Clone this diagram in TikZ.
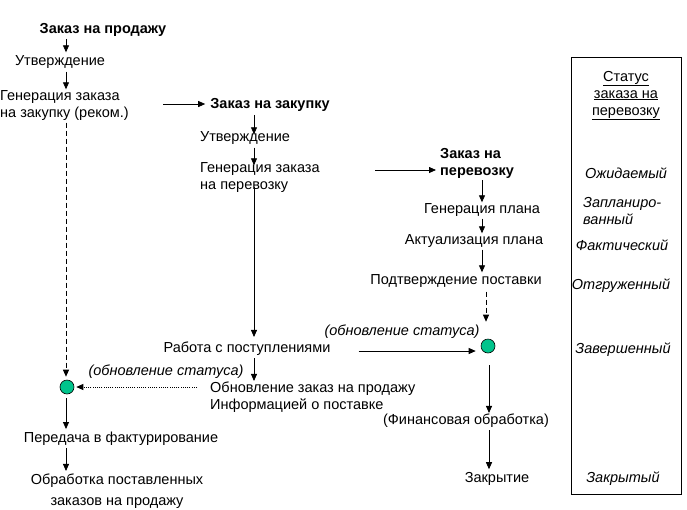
\documentclass[tikz,border=0pt]{standalone}
\usepackage{fontspec}
\setmainfont{Liberation Sans}
\usetikzlibrary{arrows.meta,calc}
\definecolor{stgreen}{RGB}{0,196,140}
\begin{document}
\begin{tikzpicture}[x=1pt,y=-1pt,
  txt/.style={inner sep=0pt, yshift=-2pt, font=\fontsize{14.5}{17}\selectfont},
  boldtxt/.style={inner sep=0pt, yshift=-2pt, font=\fontsize{14.5}{17}\selectfont\bfseries},
  itxt/.style={inner sep=0pt, yshift=-2pt, font=\fontsize{14.5}{17}\selectfont\itshape},
  arr/.style={-{Triangle[length=7pt,width=6pt]}, line width=0.8pt},
  dsharr/.style={arr, dash pattern=on 5pt off 3pt},
  dotarr/.style={arr, dash pattern=on 1pt off 1.2pt},
  statecirc/.style={circle, draw=black, line width=0.6pt, fill=stgreen, minimum size=14pt, inner sep=0pt},
]
\useasboundingbox (0,0) rectangle (687,509);

% column coordinates
\coordinate (k1) at (66,0);
\coordinate (k2) at (254,0);
\coordinate (k3) at (482,0);
\coordinate (k4) at (486,0);
\coordinate (k5) at (489,0);

% left column
\node[boldtxt] (so) at (103,28) {Заказ на продажу};
\node[txt] (so1) at (60,60) {Утверждение};
\node[txt, align=left, anchor=west] (so2) at (0,103.5) {Генерация заказа\\на закупку (реком.)};
\node[statecirc] (c1) at (67,387) {};
\node[itxt] (st2) at (166,370) {(обновление статуса)};
\node[txt] (inv) at (121,437) {Передача в фактурирование};
\node[txt, align=center] (proc) at (117,489.5) {Обработка поставленных\\[4pt]заказов на продажу};

% middle column
\node[boldtxt] (po) at (270,103) {Заказ на закупку};
\node[txt] (po1) at (245,136) {Утверждение};
\node[txt, align=left, anchor=west] (po2) at (200,175.5) {Генерация заказа\\на перевозку};
\node[txt] (rc) at (247,347) {Работа с поступлениями};
\node[txt, align=left, anchor=west] (upd) at (210,395.5) {Обновление заказ на продажу\\Информацией о поставке};

% right column
\node[boldtxt, align=left, anchor=west] (to) at (440,161) {Заказ на\\перевозку};
\node[txt] (to1) at (482,208) {Генерация плана};
\node[txt] (to2) at (474,239) {Актуализация плана};
\node[txt] (to3) at (456,279) {Подтверждение поставки};
\node[itxt] (st1) at (402,330) {(обновление статуса)};
\node[statecirc] (c2) at (488,346) {};
\node[txt] (fin) at (466,419) {(Финансовая обработка)};
\node[txt] (cl) at (497,477) {Закрытие};

% status box
\node[draw, line width=0.8pt, minimum width=110pt, minimum height=437pt, inner sep=0pt] (box) at (626,275.5) {};
\node[txt, align=center] (bt) at (626,93.5) {\underline{Статус}\\\underline{заказа на}\\\underline{перевозку}};
\node[itxt] (s1) at (626,171) {Ожидаемый};
\node[itxt, align=left, anchor=west] (s2) at (583,209.5) {Запланиро-\\ванный};
\node[itxt] (s3) at (622,243) {Фактический};
\node[itxt] (s4) at (621,284) {Отгруженный};
\node[itxt] (s5) at (623,348) {Завершенный};
\node[itxt] (s6) at (623,477) {Закрытый};

% connectors, left
\draw[arr, shorten <=2pt, shorten >=3pt] (so.south -| k1) -- (so1.north -| k1);
\draw[arr, shorten <=3pt, shorten >=1pt] (so1.south -| k1) -- (so2.north -| k1);
\draw[dsharr, shorten <=2pt, shorten >=3pt] (so2.south -| k1) -- (c1.north -| k1);
\draw[dotarr, shorten <=13pt, shorten >=2pt] (upd.west |- c1) -- (c1.east);
\draw[arr, shorten <=4pt, shorten >=3pt] (c1.south -| k1) -- (inv.north -| k1);
\draw[arr, shorten <=2pt, shorten >=3pt] (inv.south -| k1) -- (proc.north -| k1);

% connectors, middle
\coordinate (h1) at (163,104);
\draw[arr, shorten >=5pt] (h1) -- (po.west |- h1);
\draw[arr, shorten <=3pt, shorten >=-3pt] (po.south -| k2) -- (po1.north -| k2);
\draw[arr, shorten <=3pt, shorten >=-3pt] (po1.south -| k2) -- (po2.north -| k2);
\draw[arr, shorten <=-6pt, shorten >=5pt] (po2.south -| k2) -- (rc.north -| k2);
\draw[arr, shorten <=2pt, shorten >=1pt] (rc.south -| k2) -- (upd.north -| k2);

% connectors, right
\coordinate (h2) at (375,170);
\draw[arr, shorten >=4pt] (h2) -- (to.west |- h2);
\draw[arr, shorten <=2pt, shorten >=1pt] (to.south -| k3) -- (to1.north -| k3);
\draw[arr, shorten <=2pt, shorten >=1pt] (to1.south -| k3) -- (to2.north -| k3);
\draw[arr, shorten <=2pt, shorten >=2pt] (to2.south -| k3) -- (to3.north -| k3);
\draw[dsharr, shorten <=4pt, shorten >=17pt] (to3.south -| k4) -- (c2.north -| k4);
\coordinate (h3) at (0,351);
\draw[arr, shorten <=28pt, shorten >=5pt] (rc.east |- h3) -- (c2.west |- h3);
\draw[arr, shorten <=12pt, shorten >=1pt] (c2.south -| k5) -- (fin.north -| k5);
\draw[arr, shorten <=2pt, shorten >=3pt] (fin.south -| k5) -- (cl.north -| k5);
\end{tikzpicture}
\end{document}
